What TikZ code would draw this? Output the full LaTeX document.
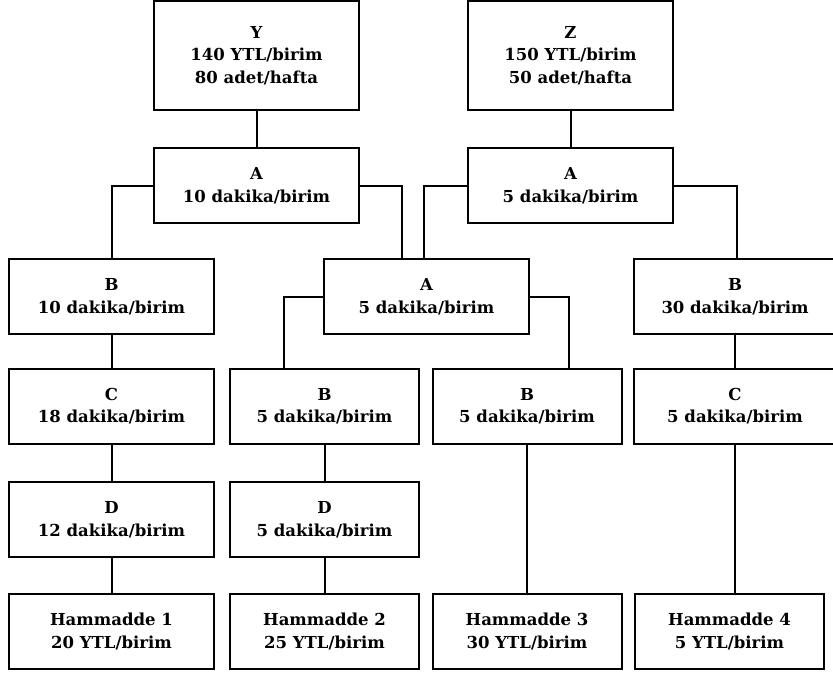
\documentclass[tikz,border=0pt]{standalone}
\usepackage{fontspec}
\setmainfont{DejaVu Serif}
\usepackage{tikz}
\usetikzlibrary{positioning}

\begin{document}
\begin{tikzpicture}[x=1pt,y=-1pt,line width=2pt,
                    kutu/.style={draw,line width=2pt,minimum width=205pt,
                                 minimum height=75pt,inner sep=0pt,align=center,
                                 font=\fontsize{16.5}{22.5}\selectfont\bfseries},
                    dar/.style={kutu,minimum width=189pt},
                    dik/.style={to path={-| (\tikztotarget)}}]
  \useasboundingbox (0,0) rectangle (833,675);
%  urunler en ustte

  \node[kutu,minimum height=109pt] (Y)  at (256.5,55.5)  {Y\\140 YTL/birim\\80 adet/hafta};
  \node[kutu,minimum height=109pt] (Z)  at (570.5,55.5)  {Z\\150 YTL/birim\\50 adet/hafta};
  \node[kutu]         (A1) at (256.5,185.5) {A\\10 dakika/birim};
  \node[kutu]         (A2) at (570.5,185.5) {A\\5 dakika/birim};
  \node[kutu]         (B1) at (111.5,296.5) {B\\10 dakika/birim};
  \node[kutu]         (A3) at (426.5,296.5) {A\\5 dakika/birim};
  \node[kutu,minimum width=202pt] (B4) at (735,296.5) {B\\30 dakika/birim};
  \node[kutu]         (C1) at (111.5,406)   {C\\18 dakika/birim};
  \node[dar]          (B2) at (324.5,406)   {B\\5 dakika/birim};
  \node[dar]          (B3) at (527,406)     {B\\5 dakika/birim};
  \node[kutu,minimum width=202pt] (C4) at (735,406) {C\\5 dakika/birim};
  \node[kutu]         (D1) at (111.5,519.5) {D\\12 dakika/birim};
  \node[dar]          (D2) at (324.5,519.5) {D\\5 dakika/birim};
  \node[kutu]         (H1) at (111.5,631.5) {Hammadde 1\\20 YTL/birim};
  \node[dar]          (H2) at (324.5,631.5) {Hammadde 2\\25 YTL/birim};
  \node[dar]          (H3) at (527,631.5)   {Hammadde 3\\30 YTL/birim};
  \node[dar]          (H4) at (729.5,631.5) {Hammadde 4\\5 YTL/birim};

  \path (Y) edge (A1)
        (Z) edge (A2)
        (A1) edge[dik] (B1.north)
             edge[dik] ([xshift=-24.5pt]A3.north)
        (A2) edge[dik] ([xshift=-2.5pt]A3.north)
             edge[dik] ([xshift=2pt]B4.north)
        (A3) edge[dik] ([xshift=-40.5pt]B2.north)
             edge[dik] ([xshift=42pt]B3.north)
        (B1) edge (C1)
        (C1) edge (D1)
        (D1) edge (H1)
        (B2) edge (D2)
        (D2) edge (H2)
        (B3.south) edge (B3.south |- H3.north)
        (B4) edge (C4)
        (C4.south) edge (C4.south |- H4.north)
;
\end{tikzpicture}
\end{document}
